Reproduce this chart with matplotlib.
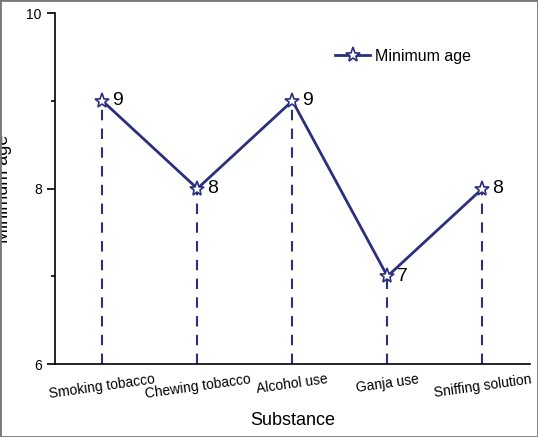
import matplotlib
matplotlib.use("Agg")
import matplotlib.pyplot as plt
from matplotlib.ticker import MultipleLocator

plt.rcParams['font.family'] = ['Liberation Sans', 'DejaVu Sans']

categories = ["Smoking tobacco", "Chewing tobacco", "Alcohol use", "Ganja use", "Sniffing solution"]
min_age = [9, 8, 9, 7, 8]

color = "#2b2f7e"
fig = plt.figure(figsize=(5.38, 4.37), dpi=100)
fig.patches.append(plt.Rectangle((0, 0), 1, 1, transform=fig.transFigure, fill=False,
                                 edgecolor="#777777", linewidth=2))
ax = fig.add_axes([0.102, 0.167, 0.883, 0.803])
x = list(range(len(categories)))
ax.plot(x, min_age, color=color, linewidth=2, marker="*", markersize=11,
        markerfacecolor="white", markeredgecolor=color, markeredgewidth=1.2,
        label="Minimum age", zorder=3)
ax.vlines(x, 6, min_age, colors=color, linestyles=(0, (5, 4)), linewidth=1.5)
for xi, v in zip(x, min_age):
    ax.text(xi + 0.1, v, str(v), fontsize=14, va="center", ha="left")
ax.set_xlim(-0.5, 4.5)
ax.set_ylim(6, 10)
ax.yaxis.set_major_locator(MultipleLocator(2))
ax.yaxis.set_minor_locator(MultipleLocator(1))
ax.tick_params(axis="y", which="major", length=6, width=1.2, labelsize=10)
ax.tick_params(axis="y", which="minor", length=3, width=1.2)
ax.set_xticks(x)
ax.set_xticklabels(categories, rotation=8, fontsize=10, ha="center")
ax.tick_params(axis="x", length=0, pad=6)
for s in ["top", "right"]:
    ax.spines[s].set_visible(False)
for s in ["left", "bottom"]:
    ax.spines[s].set_linewidth(1.2)
ax.set_xlabel("Substance", fontsize=13, labelpad=8)
ax.set_ylabel("Minimum age", fontsize=13, labelpad=10)
ax.legend(loc="upper left", bbox_to_anchor=(0.56, 0.94), frameon=False, fontsize=11.5,
          handlelength=2.2, handletextpad=0.3)
fig.savefig("out.png", dpi=100)
